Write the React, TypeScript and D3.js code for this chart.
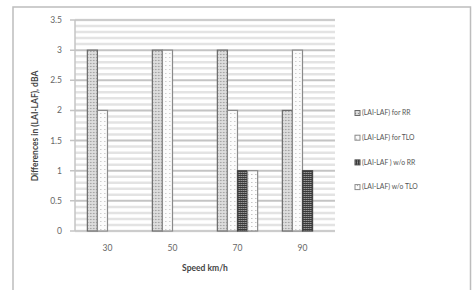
import React from "react";
import { scaleBand, scaleLinear, range } from "d3";

const speeds = ["30", "50", "70", "90"];
const seriesNames = [
  "(LAI-LAF) for RR",
  "(LAI-LAF) for TLO",
  "(LAI-LAF ) w/o  RR",
  "(LAI-LAF) w/o TLO"
];
const forRR = [3, 3, 3, 2];
const forTLO = [2, 3, 2, 3];
const withoutRR = [0, 0, 1, 1];
const withoutTLO = [0, 0, 1, 0];
const yTicks = [0, 0.5, 1, 1.5, 2, 2.5, 3, 3.5];

const seriesValues = [forRR, forTLO, withoutRR, withoutTLO];
const fills = ["url(#pRR)", "url(#pTLO)", "url(#pWoRR)", "url(#pWoTLO)"];
const strokes = ["#6a6a6a", "#8a8a8a", "#444", "#8a8a8a"];

export default function App() {
  const width = 472,
    height = 290;
  const plot = { left: 75, right: 335, top: 20, bottom: 231 };

  const x = scaleBand()
    .domain(speeds)
    .range([plot.left, plot.right])
    .paddingInner(0.38)
    .paddingOuter(0.19);
  const xInner = scaleBand()
    .domain(seriesNames)
    .range([0, x.bandwidth()]);
  const y = scaleLinear().domain([0, 3.5]).range([plot.bottom, plot.top]);

  const minor = range(0, 3.5001, 0.1);
  const font = "Lato, 'Open Sans', sans-serif";

  return (
    <svg
      width={width}
      height={height}
      style={{ position: "absolute", left: 0, top: 0, background: "#fff" }}
    >
      <defs>
        <pattern id="pRR" patternUnits="userSpaceOnUse" width="3" height="3">
          <rect width="3" height="3" fill="#d6d6d6" />
          <rect x="0" y="0" width="1" height="1" fill="#8c8c8c" />
          <rect x="1.5" y="1.5" width="1" height="1" fill="#f4f4f4" />
        </pattern>
        <pattern id="pTLO" patternUnits="userSpaceOnUse" width="4" height="4">
          <rect width="4" height="4" fill="#fbfbfb" />
          <rect x="1" y="1" width="1" height="1" fill="#b8b8b8" />
        </pattern>
        <pattern id="pWoRR" patternUnits="userSpaceOnUse" width="2" height="2">
          <rect width="2" height="2" fill="#3a3a3a" />
          <rect x="0" y="0" width="1" height="1" fill="#c8c8c8" />
        </pattern>
        <pattern id="pWoTLO" patternUnits="userSpaceOnUse" width="4" height="4">
          <rect width="4" height="4" fill="#fdfdfd" />
          <rect x="2" y="2" width="1" height="1" fill="#a8a8a8" />
        </pattern>
      </defs>

      {/* chart border */}
      <rect x={13} y={7} width={457.5} height={290} fill="none" stroke="#bdbdbd" strokeWidth={1.5} />

      {/* minor gridlines */}
      {minor.map((v, i) => (
        <line
          key={"m" + i}
          x1={plot.left}
          x2={plot.right}
          y1={y(v)}
          y2={y(v)}
          stroke="#e3e3e3"
          strokeWidth={2.5}
        />
      ))}
      {/* major gridlines + y ticks */}
      {yTicks.map(t => (
        <g key={t}>
          <line x1={plot.left - 5} x2={plot.right} y1={y(t)} y2={y(t)} stroke="#c4c4c4" strokeWidth={1.5} />
          <text
            x={62}
            y={y(t)}
            dy="0.35em"
            textAnchor="end"
            fontSize={8.5}
            fill="#666"
            fontFamily={font}
          >
            {t}
          </text>
        </g>
      ))}
      <line x1={plot.left} x2={plot.left} y1={plot.top} y2={plot.bottom} stroke="#c4c4c4" strokeWidth={1.5} />

      {/* bars */}
      {speeds.map((s, i) => (
        <g key={s} transform={`translate(${x(s)},0)`}>
          {seriesValues.map((vals, j) =>
            vals[i] > 0 ? (
              <rect
                key={j}
                x={xInner(seriesNames[j])}
                y={y(vals[i])}
                width={xInner.bandwidth()}
                height={y(0) - y(vals[i])}
                fill={fills[j]}
                stroke={strokes[j]}
                strokeWidth={1.2}
              />
            ) : null
          )}
        </g>
      ))}

      {/* x tick labels */}
      {speeds.map(s => (
        <text
          key={s}
          x={x(s) + x.bandwidth() / 2}
          y={248}
          dy="0.35em"
          textAnchor="middle"
          fontSize={8.5}
          fill="#666"
          fontFamily={font}
        >
          {s}
        </text>
      ))}

      {/* axis titles */}
      <text
        x={(plot.left + plot.right) / 2}
        y={268}
        dy="0.35em"
        textAnchor="middle"
        fontSize={8.5}
        fontWeight="bold"
        fill="#444"
        fontFamily={font}
      >
        Speed km/h
      </text>
      <text
        transform={`translate(35,126) rotate(-90)`}
        textAnchor="middle"
        dy="0.35em"
        fontSize={8.5}
        fontWeight="bold"
        fill="#444"
        fontFamily={font}
      >
        Differences in (LAI-LAF), dBA
      </text>

      {/* legend */}
      {seriesNames.map((n, j) => (
        <g key={n} transform={`translate(355,${113 + j * 24.7})`}>
          <rect x={0} y={-2.5} width={5} height={5} fill={fills[j]} stroke={strokes[j]} strokeWidth={1} />
          <text x={7} y={0} dy="0.35em" fontSize={6.8} fill="#555" fontFamily={font}>
            {n}
          </text>
        </g>
      ))}
    </svg>
  );
}
